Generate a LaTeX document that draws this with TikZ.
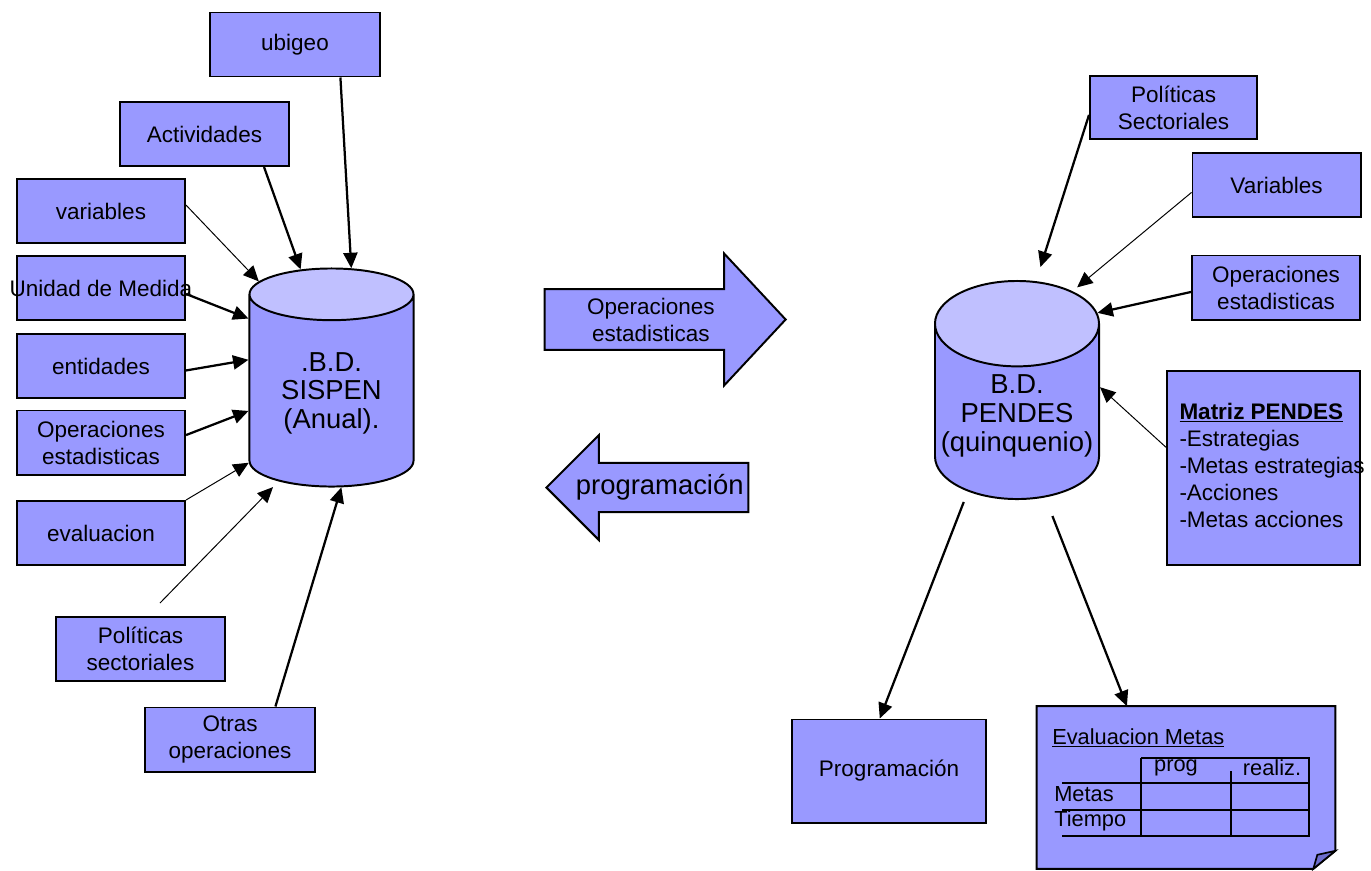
\documentclass[tikz,border=0pt]{standalone}
\usepackage{fontspec}
\setmainfont{Liberation Sans}
\usetikzlibrary{arrows.meta, positioning, shapes.geometric, shapes.arrows}
\definecolor{cBox}{RGB}{153,153,255}
\definecolor{cTop}{RGB}{192,192,255}
\definecolor{cFold}{RGB}{110,110,205}

\begin{document}
\begin{tikzpicture}[x=0.025cm, y=-0.025cm,
        box/.style={rectangle, draw=black, fill=cBox, line width=1.4pt, minimum width=4.2cm,
        minimum height=1.6cm, align=center, inner sep=1pt, font=\fontsize{16}{19.2}\selectfont},
        db/.style={cylinder, shape border rotate=90, aspect=0.5, draw=black, line width=1.4pt,
        cylinder uses custom fill, cylinder body fill=cBox, cylinder end fill=cTop,
        minimum width=4.1cm, minimum height=5.45cm, align=center, inner sep=1pt,
        anchor=shape center, font=\fontsize{19.5}{20.5}\selectfont},
        bigarrow/.style={single arrow, draw=black, fill=cBox, line width=1.4pt, align=center,
        inner xsep=1pt, anchor=tip, font=\fontsize{16}{19.2}\selectfont},
        cell/.style={inner sep=0pt, font=\fontsize{15.5}{19.2}\selectfont},
        arrow/.style={-{Triangle[length=11pt, width=10pt]}, line width=1.6pt},
        thinarrow/.style={-{Triangle[length=11pt, width=10pt]}, line width=0.7pt}
    ]
        \useasboundingbox (0,0) rectangle (1371,870);

        % --- SISPEN ---
        \node[db] (sispen) at (331.5,377.5) {.B.D.\\SISPEN\\(Anual).};
        \node[box, minimum width=4.25cm] (ubigeo) at (295,44.5) {ubigeo};
        \node[box] (activ)  at (204.5,134) {Actividades};
        \node[box] (vars)   at (101,211)   {variables};
        \node[box] (unidad) at (101,288)   {\makebox[0pt]{Unidad de Medida}};
        \node[box] (entid)  at (101,366)   {entidades};
        \node[box] (operL)  at (101,442.5) {Operaciones\\estadisticas};
        \node[box] (evalL)  at (101,533)   {evaluacion};
        \node[box] (polL)   at (140.5,649) {Políticas\\sectoriales};
        \node[box, minimum width=4.25cm] (otras) at (230,739.5) {Otras\\operaciones};
        \coordinate (polfree) at (160,603);

        \draw[arrow]     (ubigeo.324)     -- (sispen.81);
        \draw[arrow]     (activ.331)      -- (sispen.104);
        \draw[thinarrow] (vars.4)         -- (sispen.123);
        \draw[arrow]     (unidad.356)     -- (sispen.138);
        \draw[arrow]     (entid.357)      -- (sispen.158);
        \draw[arrow]     (operL.5)        -- (sispen.192);
        \draw[thinarrow] (evalL.north east) -- (sispen.220);
        \draw[thinarrow, shorten >=0.2cm] (polfree) -- (sispen.239);
        \draw[arrow]     (otras.36)       -- (sispen.276);

        % --- big arrows ---
        \node[bigarrow, minimum height=6.025cm, minimum width=3.3cm, inner ysep=0.16cm,
            single arrow head extend=0.85cm, single arrow tip angle=94] (opArrow) at (787,319.5) {Operaciones\\estadisticas};
        \node[bigarrow, shape border rotate=180, minimum height=5.05cm, minimum width=2.625cm, inner ysep=0.22cm,
            single arrow head extend=0.64cm, font=\fontsize{19.5}{22}\selectfont] (progArrow) at (545,487.5) {programación};

        % --- PENDES ---
        \node[db, aspect=0.55] (pendes) at (1017,390) {B.D.\\PENDES\\(quinquenio)};
        \node[box, minimum width=4.175cm, minimum height=1.575cm] (polR) at (1173.5,107.5) {Políticas\\Sectoriales};
        \node[box] (varR)  at (1276.5,185) {Variables};
        \node[box] (operR) at (1276,287.5) {Operaciones\\estadisticas};
        \node[box, minimum width=4.825cm, minimum height=4.85cm] (matriz) at (1263.5,468)
            {\makebox[4.2cm][l]{\begin{tabular}{@{}l@{}}\underline{\textbf{Matriz PENDES}}\\-Estrategias\\-Metas estrategias\\-Acciones\\-Metas acciones\end{tabular}}};
        \node[box, minimum width=4.85cm, minimum height=2.575cm] (progR) at (889,771) {Programación};
        \node[minimum width=7.45cm, minimum height=4.05cm] (evalm) at (1186,787.5) {};

        \draw[fill=cBox, line width=1.4pt] (evalm.north west) -- (evalm.north east)
            -- ([yshift=0.45cm]evalm.south east) -- ([xshift=-0.55cm]evalm.south east)
            -- (evalm.south west) -- cycle;
        \draw[fill=cFold, line width=1.2pt] ([xshift=-0.55cm]evalm.south east)
            -- ([yshift=0.45cm]evalm.south east) -- ([xshift=-0.45cm, yshift=0.35cm]evalm.south east) -- cycle;

        \node[cell, anchor=west] (evaltitle) at (1052,738) {\underline{Evaluacion Metas}};
        \node[cell] (colprog) at (1176,768) {prog};
        \node[cell] (colreal) at (1272,768) {realiz.};
        \node[cell, anchor=west] (rowmetas)  at (1054,794) {Metas};
        \node[cell, anchor=west] (rowtiempo) at (1054,821) {Tiempo};
        \draw[line width=1.4pt] (1141,758) -- (1309,758) -- (1309,836) -- (1062,836);
        \draw[line width=1.4pt] (1062,783) -- (1309,783);
        \draw[line width=1.4pt] (1062,810) -- (1309,810);
        \draw[line width=1.4pt] (1141,758) -- (1141,836);
        \draw[line width=1.4pt] (1231,771) -- (1231,836);

        \draw[arrow, shorten >=0.37cm] (polR.185) -- (pendes.82);
        \draw[thinarrow, shorten >=0.15cm] (varR.185) -- (pendes.66);
        \draw[arrow]     (operR.183)  -- (pendes.52);
        \draw[thinarrow] (matriz.168) -- (pendes.19);
        \draw[arrow, shorten <=0.28cm] (pendes.237) -- (progR.100);
        \draw[arrow, shorten <=0.5cm] (pendes.289) -- (evalm.126);

    \end{tikzpicture}
\end{document}
